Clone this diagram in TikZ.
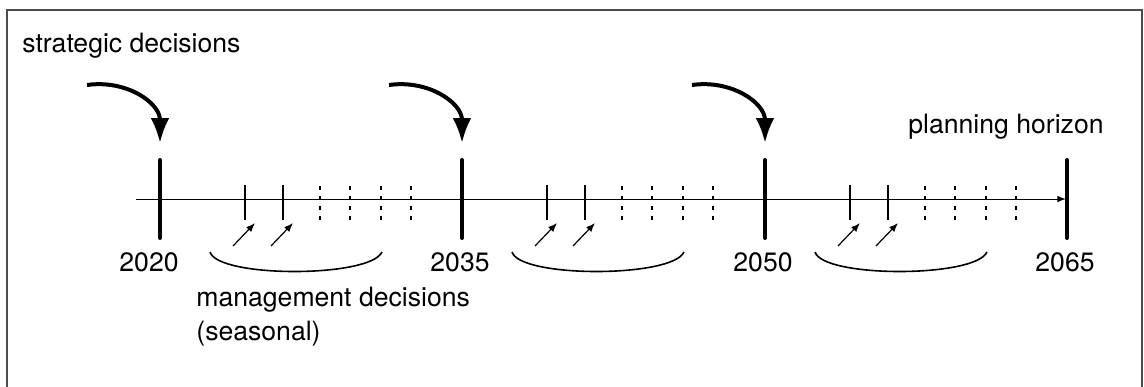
\documentclass[tikz,border=0pt]{standalone}
\usepackage{fontspec}
\setmainfont{TeX Gyre Heros}
\usetikzlibrary{arrows.meta}
\tikzset{
  bigarrow/.style={line width=2pt, -{Latex[length=12.5pt,width=9.5pt]}},
  yearbar/.style={line width=2pt, line cap=round},
  seasonarrow/.style={line width=0.6pt, -{Latex[length=4.5pt,width=3.5pt]}},
  futuretick/.style={line width=0.6pt, dash pattern=on 2pt off 3pt},
  label/.style={anchor=base west, inner sep=0pt}
}
\begin{document}
\begin{tikzpicture}[x=0.5pt, y=-0.5pt, >=latex, font=\fontsize{13.3}{17}\selectfont]
    \useasboundingbox (0,0) rectangle (1144,386);
    \draw[gray!60!black, line width=0.6pt] (7,395) -- (7,10) -- (1142,10) -- (1142,395);
    % time axis
    \coordinate (start) at (136,199);
    \coordinate (horizon) at (1066,199);
    \draw[->, line width=0.5pt] (start) -- (horizon);
    % years
    \foreach \x/\lx/\yr in {160/149/2020, 462/460/2035, 765/763/2050, 1067/1065/2065}{
        \draw[yearbar] (\x,160) -- (\x,238);
        \node[anchor=base, inner sep=0pt] (y\yr) at (\lx,271) {\yr};
    }
    % strategic and seasonal decisions in each period
    \foreach \b [count=\i] in {160,462,765}{
        \coordinate (s\i) at (\b-73,85);
        \coordinate (d\i) at (\b,143);
        \draw[bigarrow] (s\i) to[out=8,in=90, looseness=1.1] (d\i);
        \foreach \t in {85,123}{
            \draw[line width=0.6pt] (\b+\t,185) -- (\b+\t,220);
            \draw[seasonarrow] (\b+\t-12,246) -- (\b+\t+10,223);
        }
        \foreach \t in {160,190,221,251}
            \draw[futuretick] (\b+\t,186) -- (\b+\t,220);
        \coordinate (l\i) at (\b+50,252);
        \coordinate (r\i) at (\b+222,252);
        \draw[line width=0.8pt] (l\i) .. controls (\b+58,278) and (\b+210,278) .. (r\i);
    }
    \node[label] (strategic) at (22,52) {strategic decisions};
    \node[label] (plan) at (908,133) {planning horizon};
    \node[label, align=left] (manage) at (196,340) {management decisions\\(seasonal)};
\end{tikzpicture}
\end{document}
